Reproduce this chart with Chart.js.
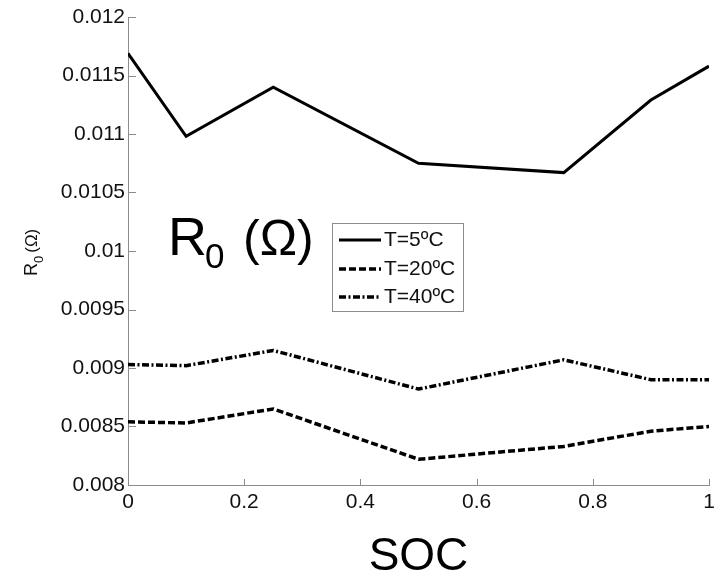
<!DOCTYPE html>
<html>
<head>
<meta charset="utf-8">
<script src="https://cdn.jsdelivr.net/npm/chart.js@4.4.0/dist/chart.umd.min.js"></script>
<style>
  body { margin: 0; background: #fff; }
  canvas { display: block; }
</style>
</head>
<body>
<canvas id="chart" width="716" height="581"></canvas>
<script>
// state of charge (x) and R0 values
const soc = [0, 0.1, 0.25, 0.5, 0.75, 0.9, 1];
const r0_5C = [0.01169, 0.01098, 0.01140, 0.01075, 0.01067, 0.01129, 0.01158];
const r0_20C = [0.00854, 0.00853, 0.00865, 0.00822, 0.00833, 0.00846, 0.00850];
const r0_40C = [0.00903, 0.00902, 0.00915, 0.00882, 0.00907, 0.00890, 0.00890];
const seriesLabels = ['T=5ºC', 'T=20ºC', 'T=40ºC'];

const FONT = '"Liberation Sans", Arial, Helvetica, sans-serif';
const AXIS_COLOR = '#8c8c8c';

function pts(ys) {
  return soc.map((x, i) => ({ x: x, y: ys[i] }));
}

// inward tick marks, like the matlab axes
const tickMarks = {
  id: 'tickMarks',
  afterDraw(chart) {
    const ctx = chart.ctx;
    const xs = chart.scales.x, ys = chart.scales.y;
    ctx.save();
    ctx.strokeStyle = AXIS_COLOR;
    ctx.lineWidth = 1;
    ctx.beginPath();
    xs.ticks.forEach(t => {
      const px = Math.round(xs.getPixelForValue(t.value)) + 0.5;
      ctx.moveTo(px, ys.bottom);
      ctx.lineTo(px, ys.bottom - 6);
    });
    ys.ticks.forEach(t => {
      const py = Math.round(ys.getPixelForValue(t.value)) + 0.5;
      ctx.moveTo(xs.left, py);
      ctx.lineTo(xs.left + 8, py);
    });
    ctx.stroke();
    ctx.restore();
  }
};

// y axis label with subscript, and the big R0 text in the plot
const labels = {
  id: 'labels',
  afterDraw(chart) {
    const ctx = chart.ctx;
    ctx.save();
    ctx.fillStyle = '#111';
    ctx.textBaseline = 'alphabetic';
    ctx.textAlign = 'left';

    // rotated axis label
    ctx.save();
    ctx.translate(37, 276);
    ctx.rotate(-Math.PI / 2);
    ctx.font = '18px ' + FONT;
    ctx.fillText('R', 0, 0);
    let u = ctx.measureText('R').width;
    ctx.font = '13px ' + FONT;
    ctx.fillText('0', u, 6);
    u += ctx.measureText('0').width + 3;
    ctx.font = '17px ' + FONT;
    ctx.fillText('(Ω)', u, 0);
    ctx.restore();

    // big annotation
    ctx.fillStyle = '#000';
    ctx.font = '54px ' + FONT;
    ctx.fillText('R', 168, 255);
    ctx.font = '35px ' + FONT;
    ctx.fillText('0', 205, 268);
    ctx.font = '50px ' + FONT;
    ctx.fillText('(Ω)', 243, 255);
    ctx.restore();
  }
};

// boxed legend with line samples
const boxLegend = {
  id: 'boxLegend',
  afterDraw(chart) {
    const ctx = chart.ctx;
    const bx = 332, by = 223, bw = 131, bh = 88;
    ctx.save();
    ctx.fillStyle = '#fff';
    ctx.fillRect(bx, by, bw, bh);
    ctx.strokeStyle = AXIS_COLOR;
    ctx.lineWidth = 1;
    ctx.strokeRect(bx + 0.5, by + 0.5, bw, bh);
    const rows = [240, 269, 297];
    chart.data.datasets.forEach((ds, i) => {
      const y = rows[i];
      ctx.strokeStyle = ds.borderColor;
      ctx.lineWidth = ds.borderWidth;
      ctx.setLineDash(ds.borderDash || []);
      ctx.beginPath();
      ctx.moveTo(339, y);
      ctx.lineTo(381, y);
      ctx.stroke();
      ctx.setLineDash([]);
      ctx.fillStyle = '#111';
      ctx.font = '21px ' + FONT;
      ctx.textBaseline = 'middle';
      ctx.fillText(ds.label, 384, y);
    });
    ctx.restore();
  }
};

new Chart(document.getElementById('chart'), {
  type: 'line',
  data: {
    datasets: [
      { label: seriesLabels[0], data: pts(r0_5C), borderColor: '#000', borderWidth: 3, borderDash: [] },
      { label: seriesLabels[1], data: pts(r0_20C), borderColor: '#000', borderWidth: 3.5, borderDash: [7, 3] },
      { label: seriesLabels[2], data: pts(r0_40C), borderColor: '#000', borderWidth: 3.5, borderDash: [7, 2.5, 2, 2.5] }
    ]
  },
  options: {
    responsive: false,
    animation: false,
    events: [],
    elements: {
      point: { radius: 0 },
      line: { tension: 0, borderCapStyle: 'butt' }
    },
    layout: { padding: { top: 17, right: 7, left: 0, bottom: 0 } },
    plugins: {
      legend: { display: false },
      tooltip: { enabled: false }
    },
    scales: {
      x: {
        type: 'linear',
        min: 0,
        max: 1,
        afterFit(scale) {
          scale.height = 96;
          scale.paddingLeft = 0;
          scale.paddingRight = 0;
        },
        grid: { display: false, drawTicks: false },
        border: { display: true, color: AXIS_COLOR, width: 1 },
        ticks: {
          stepSize: 0.2,
          padding: 5,
          color: '#111',
          font: { family: FONT, size: 21 },
          maxRotation: 0,
          callback: v => String(parseFloat(v.toFixed(2)))
        },
        title: {
          display: true,
          text: 'SOC',
          color: '#000',
          font: { family: FONT, size: 46 },
          padding: { top: 0, bottom: -4 }
        }
      },
      y: {
        min: 0.008,
        max: 0.012,
        afterFit(scale) {
          scale.width = 128;
          scale.paddingTop = 0;
          scale.paddingBottom = 0;
        },
        grid: { display: false, drawTicks: false },
        border: { display: true, color: AXIS_COLOR, width: 1 },
        ticks: {
          stepSize: 0.0005,
          padding: 3,
          color: '#111',
          font: { family: FONT, size: 21 },
          callback: v => String(parseFloat(v.toFixed(4)))
        }
      }
    }
  },
  plugins: [tickMarks, labels, boxLegend]
});
</script>
</body>
</html>
